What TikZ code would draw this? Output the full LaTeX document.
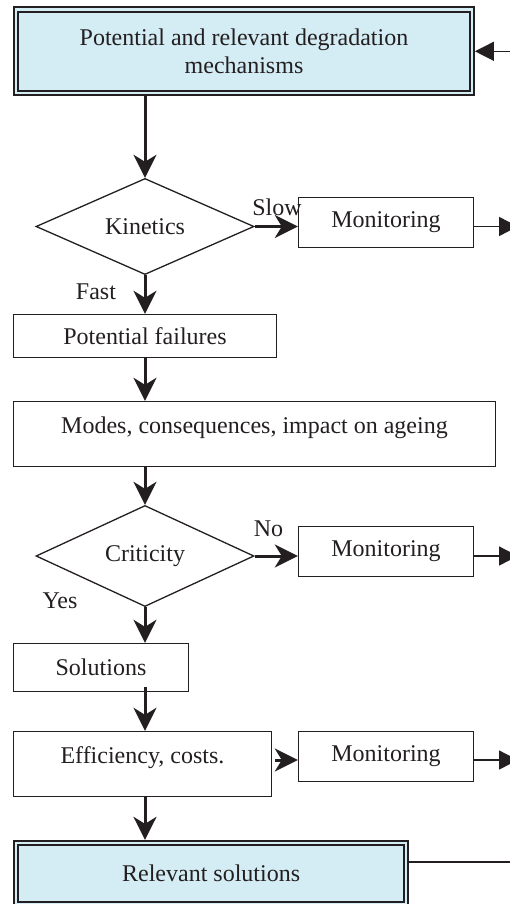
\documentclass[tikz,border=0pt]{standalone}
\usepackage{fontspec}
\setmainfont{Liberation Serif}
\usetikzlibrary{shapes.geometric,arrows.meta}
\definecolor{ink}{RGB}{35,31,32}
\definecolor{paleblue}{RGB}{212,236,243}
\begin{document}
\begin{tikzpicture}[x=1pt,y=-1pt,
  every node/.style={font=\fontsize{24}{28}\selectfont, text=ink},
  box/.style={draw=ink, line width=1.4pt, rectangle, inner sep=0pt},
  dbox/.style={draw=ink, line width=1.8pt, double=paleblue, double distance=2.6pt,
    fill=paleblue, rectangle, inner sep=0pt, outer sep=3pt, align=center},
  decision/.style={draw=ink, line width=1.3pt, diamond, inner sep=0pt},
  flow/.style={draw=ink, line width=3pt, -{Stealth[length=23pt,width=23pt,inset=7pt]}},
  exitarr/.style={draw=ink, line width=1.3pt, -{Triangle[length=19pt,width=19pt]}},
  lbl/.style={anchor=base, inner sep=0pt}
]
\useasboundingbox (0,0) rectangle (510,904);

\node[dbox, minimum width=455.8pt, minimum height=83.4pt] (top) at (244,51.3)
  {Potential and relevant degradation\\mechanisms};
\node[decision, minimum width=218pt, minimum height=87pt] (kin) at (145,226.5) {Kinetics};
\node[box, minimum width=175pt, minimum height=50pt] (mon1) at (386,222.5) {Monitoring};
\node[box, minimum width=263pt, minimum height=43pt] (pf) at (145,336) {Potential failures};
\node[box, minimum width=482pt, minimum height=65pt, text depth=17.5pt] (modes) at (254.5,434)
  {Modes, consequences, impact on ageing};
\node[decision, minimum width=218pt, minimum height=88pt] (crit) at (145,556) {Criticity};
\node[box, minimum width=175pt, minimum height=50pt] (mon2) at (386,551.5) {Monitoring};
\node[box, minimum width=175pt, minimum height=48pt] (sol) at (101,667.5) {Solutions};
\node[box, minimum width=258pt, minimum height=65pt, text depth=18pt] (eff) at (142.5,764)
  {Efficiency, costs.};
\node[box, minimum width=175pt, minimum height=50pt] (mon3) at (386,756.5) {Monitoring};
\node[dbox, minimum width=390pt, minimum height=61.3pt] (rel) at (211.1,873.5) {Relevant solutions};

\coordinate (in1) at (510,51.3);
\coordinate (out1) at (518,226.5);
\coordinate (out2) at (518,556);
\coordinate (out3) at (518,760);
\coordinate (out4) at (510,862);
\coordinate (solstart) at (145,687);

% main flow
\draw[flow] (kin.north |- top.south) -- (kin.north);
\draw[flow] (kin.east) -- (kin.east -| mon1.west);
\draw[flow] (kin.south) -- (pf.north);
\draw[flow] (pf.south) -- (pf.south |- modes.north);
\draw[flow] (crit.north |- modes.south) -- (crit.north);
\draw[flow] (crit.east) -- (crit.east -| mon2.west);
\draw[flow] (crit.south) -- (crit.south |- sol.north);
\draw[flow] (solstart) -- (solstart |- eff.north);
\draw[flow, shorten <=3pt] (out3 -| eff.east) -- (out3 -| mon3.west);
\draw[flow] (crit.south |- eff.south) -- (crit.south |- rel.north);

% exits
\draw[exitarr] (in1) -- (top.east);
\draw[exitarr] (out1 -| mon1.east) -- (out1);
\draw[exitarr] (out2 -| mon2.east) -- (out2);
\draw[exitarr] (out3 -| mon3.east) -- (out3);
\draw[draw=ink, line width=1.3pt] (out4 -| rel.east) -- (out4);

% labels
\node[lbl] (slow) at (277,215) {Slow};
\node[lbl] (fast) at (96,299) {Fast};
\node[lbl] (no) at (268.5,536) {No};
\node[lbl] (yes) at (60,608) {Yes};
\end{tikzpicture}
\end{document}
